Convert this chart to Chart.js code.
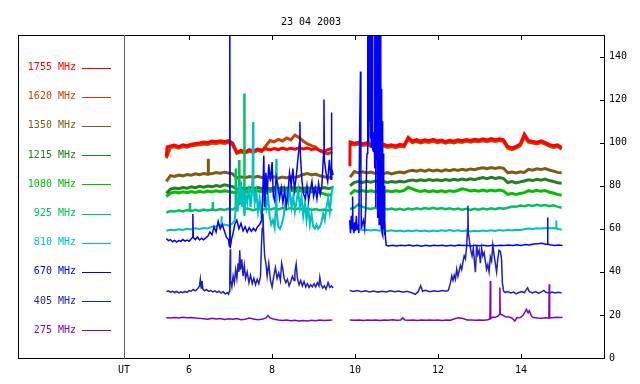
<!DOCTYPE html>
<html><head><meta charset="utf-8">
<script src="https://cdn.jsdelivr.net/npm/chart.js@4/dist/chart.umd.min.js"></script>
<style>html,body{margin:0;padding:0;background:#fff}canvas{display:block}</style>
</head><body>
<canvas id="c" width="640" height="384"></canvas>
<script>
const chartTitle = '23 04 2003';
const axisLabel = 'UT';
const xTicks = [6, 8, 10, 12, 14];
const yTicks = [0, 20, 40, 60, 80, 100, 120, 140];
const bandNames = ['1755 MHz','1620 MHz','1350 MHz','1215 MHz','1080 MHz','925 MHz','810 MHz','670 MHz','405 MHz','275 MHz'];
const bandColors = ['#ff0000','#c84000','#805c10','#228022','#00c000','#00c060','#00c0c0','#0000ff','#2020c0','#8000c8'];
const gapHour = 9.7;

// regular time grid (hours UT) for the quiet bands
const hoursA = [5.45,5.55,5.65,5.75,5.85,5.95,6.05,6.15,6.25,6.35,6.45,6.55,6.65,6.75,6.85,6.95,7.05,7.15,7.25,7.35,7.45,7.55,7.65,7.75,7.85,7.95,8.05,8.15,8.25,8.35,8.45,8.55,8.65,8.75,8.85,8.95,9.05,9.15,9.25,9.35,9.45];
const hoursB = [9.88,9.98,10.08,10.18,10.28,10.38,10.48,10.58,10.68,10.78,10.88,10.98,11.08,11.18,11.28,11.38,11.48,11.58,11.68,11.78,11.88,11.98,12.08,12.18,12.28,12.38,12.48,12.58,12.68,12.78,12.88,12.98,13.08,13.18,13.28,13.38,13.48,13.58,13.68,13.78,13.88,13.98,14.08,14.18,14.28,14.38,14.48,14.58,14.68,14.78,14.88,14.98];

const v1755a = [93.5,98.5,98.9,98.2,99.0,98.6,99.3,99.6,99.9,100.3,100.0,100.8,100.4,100.9,100.5,101.0,99.8,95.6,96.4,95.8,96.8,96.2,97.0,96.5,97.2,96.6,97.3,96.8,97.5,96.9,97.4,97.0,97.6,97.1,97.5,96.8,97.2,96.4,96.0,96.8,97.5];
const v1755b = [100.3,99.8,100.2,99.5,99.9,99.2,99.6,98.8,99.3,98.6,99.0,98.5,99.2,98.8,102.5,100.8,101.4,100.7,101.3,100.9,101.5,100.8,101.2,100.6,101.1,100.7,101.3,100.9,101.5,101.0,101.6,101.2,101.8,101.3,101.9,101.4,101.8,101.3,98.2,97.6,98.3,99.4,104.0,101.0,100.6,100.2,100.8,100.1,99.2,98.6,99.0,97.8];
const x1755 = [[5.47,98.0],[9.875,89.0]];

const v1620a = [92.8,97.8,98.1,97.5,98.2,97.9,98.5,98.8,99.0,99.4,99.2,99.8,99.5,100.0,99.6,100.1,98.8,95.0,95.7,95.2,96.0,95.5,96.3,95.9,98.5,101.0,100.4,101.5,100.8,102.2,101.3,103.5,102.4,100.8,99.4,98.6,98.0,96.2,95.3,94.8,95.8];
const v1620b = [99.4,99.0,99.3,98.7,99.0,98.4,98.8,98.0,98.5,97.8,98.2,97.7,98.3,98.0,101.5,100.0,100.5,99.9,100.4,100.1,100.6,100.0,100.4,99.8,100.3,99.9,100.4,100.1,100.7,100.2,100.8,100.4,100.9,100.5,101.0,100.6,101.0,100.5,97.4,96.8,97.5,98.5,102.5,100.2,99.8,99.4,100.0,99.3,98.4,97.8,98.2,97.0];

const v1350a = [82.0,84.7,84.3,85.0,84.6,85.2,84.9,85.5,85.1,85.7,85.3,85.6,86.1,85.8,86.3,85.9,85.5,83.6,84.2,83.7,84.3,83.9,84.4,83.8,84.2,83.6,84.1,83.5,84.0,83.6,84.2,83.8,84.4,85.2,85.7,85.0,85.4,84.6,84.2,83.6,84.1];
const v1350b = [84.0,86.6,86.0,86.5,85.9,86.3,85.7,86.2,85.6,86.1,85.5,86.0,86.4,86.0,86.8,87.2,86.7,87.3,86.8,87.4,86.9,87.3,86.8,87.4,87.0,87.5,87.1,87.6,87.2,87.8,87.4,88.0,88.3,87.9,88.4,88.0,88.5,88.1,86.0,86.4,85.9,86.5,86.2,87.6,87.2,87.9,87.5,88.0,87.3,86.8,86.2,86.0];
const x1350 = [[6.455,85.5],[6.46,92.5],[6.465,85.6]];

const v1215a = [76.5,78.4,78.9,78.6,79.2,78.8,79.5,79.1,79.7,79.3,79.9,79.5,80.1,79.7,80.4,80.0,79.6,78.4,79.0,78.5,79.1,78.6,79.2,78.7,79.0,78.5,79.1,78.6,79.2,78.8,79.3,78.7,79.2,78.6,79.1,78.5,79.0,78.6,79.2,78.7,79.0];
const v1215b = [80.0,81.6,82.0,81.5,82.1,81.6,82.2,81.7,82.0,81.5,82.0,81.6,82.1,81.7,82.3,82.7,82.2,82.8,82.3,82.9,82.4,82.8,82.3,82.9,82.5,83.0,82.6,83.1,82.7,83.2,82.8,83.4,83.8,83.3,83.9,83.4,83.8,83.3,81.5,81.9,81.3,81.8,82.2,82.8,82.4,83.0,82.6,83.1,82.4,82.0,81.4,81.2];

const v1080a = [75.0,76.6,77.1,76.7,77.2,76.8,77.3,76.9,77.4,77.0,77.5,77.1,77.6,77.2,77.7,77.3,77.0,76.8,77.4,76.9,77.6,77.1,77.7,77.2,77.8,77.3,77.9,77.4,78.0,77.5,78.0,77.4,77.8,77.2,77.7,77.1,77.5,76.8,76.2,75.6,76.0];
const v1080b = [76.0,77.7,77.3,77.8,77.2,77.7,77.2,77.6,77.1,77.6,77.2,77.7,77.3,77.8,79.3,78.5,77.8,77.3,77.8,77.2,77.7,77.2,77.6,77.1,77.7,77.3,77.8,78.6,78.2,77.6,77.9,77.5,78.0,77.5,78.0,77.6,78.0,77.5,76.0,76.5,75.9,76.4,76.8,77.7,77.3,77.9,77.4,77.8,77.0,76.6,76.0,75.6];

const v925a = [67.5,68.3,68.0,68.6,68.1,68.7,68.2,68.8,68.3,68.9,68.5,69.0,68.6,69.2,68.8,69.3,68.9,70.5,72.0,69.5,69.2,68.6,69.3,68.8,69.4,68.9,69.5,69.0,69.6,69.1,69.6,69.0,69.5,68.9,69.4,68.8,69.2,68.6,69.0,68.5,68.8];
const v925b = [69.2,69.8,71.3,70.2,69.6,69.2,69.7,69.1,69.5,69.0,69.4,68.9,69.3,68.8,69.4,69.0,69.5,69.1,69.6,69.2,69.7,69.2,69.6,69.1,69.5,69.0,69.4,68.9,69.3,68.8,69.3,68.9,69.4,69.0,69.5,69.1,69.6,69.3,69.8,70.4,70.2,70.8,70.5,71.0,70.6,71.1,70.7,71.0,70.5,70.9,70.3,69.8];
const x925 = [[6.015,68.4],[6.02,72.0],[6.025,68.5],[6.565,68.8],[6.57,72.5],[6.575,68.9],[7.12,70.0],[7.125,88.0],[7.13,70.5],[7.2,71.5],[7.205,92.0],[7.21,72.0],[7.325,70.5],[7.33,122.8],[7.335,70.0]];

// 810 MHz: irregular sampling in the active first part
const p810a = [[5.45,59.1],[5.55,59.6],[5.65,59.3],[5.75,59.8],[5.85,59.5],[5.95,60.0],[6.05,59.7],[6.15,60.2],[6.25,59.9],[6.35,60.4],[6.45,60.1],[6.55,61.0],[6.65,61.2],[6.75,61.8],[6.775,61.5],[6.78,65.8],[6.785,61.6],[6.85,62.0],[6.95,61.5],[7.05,62.5],[7.10,64],[7.14,74],[7.17,68],[7.20,80],[7.22,72],[7.25,82],[7.28,70],[7.30,78],[7.33,66],[7.36,76],[7.40,72],[7.44,80],[7.48,70],[7.51,76],[7.53,85],[7.54,109.6],[7.55,80],[7.58,72],[7.62,77],[7.66,68],[7.70,74],[7.74,66],[7.78,73],[7.82,80],[7.86,70],[7.90,75],[7.94,66],[7.98,62],[8.02,64],[8.06,60.5],[8.09,70],[8.10,92.5],[8.11,68],[8.15,61],[8.19,60],[8.23,62],[8.27,65],[8.31,70],[8.35,76],[8.39,72],[8.43,78],[8.47,70],[8.51,75],[8.55,68],[8.59,73],[8.63,78],[8.67,70],[8.71,75],[8.75,66],[8.79,72],[8.83,64],[8.87,70],[8.91,62],[8.95,67],[8.99,61],[9.03,60],[9.07,62],[9.11,60],[9.15,61],[9.19,63],[9.23,67],[9.27,64],[9.31,70],[9.35,74],[9.39,68],[9.43,76],[9.47,80]];
const v810b = [60.5,60.3,59.8,59.4,59.6,59.2,59.5,59.1,59.4,59.0,59.3,58.9,59.2,58.8,59.2,58.9,59.3,58.9,59.2,58.8,59.2,58.9,59.3,59.0,59.4,59.0,59.3,58.9,59.2,58.8,59.1,58.9,59.2,59.0,59.3,59.0,59.4,59.1,59.5,59.2,59.6,59.4,59.8,60.1,59.9,60.3,60.1,60.4,60.2,60.4,60.0,59.6];
const x810 = [[14.845,60.3],[14.85,63.8],[14.855,60.2]];

// 670 MHz
const p670a = [[5.45,55.5],[5.5,54.5],[5.55,55.0],[5.6,54.0],[5.65,54.6],[5.7,53.8],[5.75,54.5],[5.8,54.2],[5.85,55.0],[5.9,54.3],[5.95,54.8],[6.0,54.2],[6.05,55.4],[6.08,56],[6.09,66.9],[6.10,56],[6.15,55.0],[6.2,56.2],[6.25,54.8],[6.3,55.6],[6.35,54.9],[6.4,55.8],[6.45,56.5],[6.5,58.5],[6.55,57.2],[6.6,61],[6.65,58.5],[6.7,63.5],[6.75,60],[6.8,62],[6.85,59],[6.9,56],[6.95,55],[6.97,52],[6.98,160],[6.99,51],[7.02,55],[7.06,58],[7.10,62],[7.15,64],[7.2,60],[7.25,62.5],[7.3,59],[7.35,61],[7.4,58.5],[7.45,60.5],[7.5,58.8],[7.55,60.2],[7.6,59],[7.65,61],[7.7,62],[7.75,64],[7.78,80],[7.80,94],[7.82,70],[7.85,86],[7.88,76],[7.92,90],[7.96,82],[8.0,91],[8.03,75],[8.06,73],[8.1,84],[8.14,80],[8.18,74],[8.22,79],[8.26,72],[8.3,78],[8.34,70.5],[8.38,76],[8.42,86],[8.46,80],[8.5,88],[8.54,78],[8.58,84],[8.62,92],[8.66,100],[8.67,109.7],[8.68,95],[8.72,82],[8.76,76],[8.8,74],[8.84,80],[8.88,73],[8.92,78],[8.96,82],[9.0,75],[9.04,79],[9.08,74],[9.12,81],[9.16,76],[9.2,80],[9.24,95],[9.25,120],[9.26,92],[9.3,86],[9.34,82],[9.38,92],[9.42,83],[9.43,114],[9.44,88],[9.47,85]];
const p670b = [[9.87,64],[9.89,58],[9.91,66],[9.93,60],[9.94,75],[9.95,61],[9.97,58],[9.99,63],[10.01,59],[10.03,66],[10.05,60],[10.07,62],[10.09,58],[10.11,106],[10.13,133],[10.14,90],[10.15,60],[10.17,62],[10.2,64],[10.23,60],[10.26,70],[10.28,92],[10.29,95],[10.30,160],[10.31,105],[10.32,165],[10.33,100],[10.34,160],[10.35,110],[10.36,165],[10.37,102],[10.38,160],[10.39,98],[10.40,165],[10.41,100],[10.42,160],[10.43,97],[10.44,96],[10.45,99],[10.46,105],[10.47,165],[10.48,88],[10.49,160],[10.50,70],[10.51,165],[10.52,92],[10.53,160],[10.54,65],[10.55,165],[10.56,85],[10.57,160],[10.58,62],[10.59,165],[10.60,90],[10.61,160],[10.62,110],[10.63,60],[10.64,125],[10.65,58],[10.66,110],[10.67,57],[10.68,95],[10.69,60],[10.70,80],[10.71,57],[10.72,64],[10.73,56.8],[10.75,52.4],[10.8,52.0],[10.9,52.3],[11.0,52.0],[11.1,52.4],[11.2,52.1],[11.3,52.5],[11.4,52.0],[11.5,52.3],[11.6,51.9],[11.7,52.3],[11.8,52.0],[11.9,52.4],[12.0,52.1],[12.1,52.4],[12.2,52.0],[12.3,52.3],[12.4,52.0],[12.5,52.5],[12.6,52.2],[12.7,52.4],[12.8,52.0],[12.9,52.3],[13.0,52.1],[13.1,52.4],[13.2,52.0],[13.3,52.3],[13.4,52.1],[13.5,52.4],[13.6,52.2],[13.7,52.5],[13.8,52.2],[13.9,52.6],[14.0,52.3],[14.1,52.7],[14.2,52.5],[14.3,52.9],[14.4,53.0],[14.5,53.3],[14.6,52.8],[14.63,52.8],[14.64,65.3],[14.65,52.8],[14.7,52.6],[14.8,52.3],[14.9,52.5],[15.0,52.2]];

// 405 MHz
const p405a = [[5.45,30.8],[5.5,31.2],[5.55,30.6],[5.6,31.0],[5.65,30.4],[5.7,30.9],[5.75,30.2],[5.8,30.7],[5.85,30.3],[5.9,30.9],[5.95,30.5],[6.0,31.3],[6.05,31.0],[6.1,31.8],[6.15,31.2],[6.2,32.0],[6.25,33.5],[6.27,36.6],[6.29,32.5],[6.31,35.8],[6.33,32.0],[6.37,31.2],[6.42,31.8],[6.47,30.9],[6.52,31.4],[6.57,30.7],[6.62,31.2],[6.67,30.5],[6.72,31.0],[6.77,30.2],[6.82,30.8],[6.87,29.8],[6.92,30.3],[6.95,29.6],[6.97,31.0],[6.98,38],[6.99,50.5],[7.0,36],[7.03,33],[7.06,38],[7.09,35],[7.12,41],[7.15,37],[7.18,44],[7.2,40],[7.22,50],[7.24,41],[7.27,45.8],[7.3,38],[7.33,43],[7.36,37],[7.4,40],[7.44,35],[7.48,38.5],[7.52,34.5],[7.56,37],[7.6,34],[7.64,36.5],[7.68,34.5],[7.72,38],[7.74,50.5],[7.76,60],[7.78,67],[7.8,55],[7.82,47.4],[7.85,44],[7.88,38],[7.92,44],[7.96,36],[8.0,33],[8.04,38],[8.08,42],[8.12,37],[8.16,39.5],[8.2,36],[8.23,44],[8.26,41.2],[8.29,37],[8.33,35],[8.37,36.5],[8.41,33.5],[8.45,35.5],[8.49,38],[8.53,36],[8.55,40],[8.58,43.6],[8.61,37],[8.65,34],[8.69,36],[8.73,33.5],[8.77,35.5],[8.81,33],[8.85,34.5],[8.89,32.8],[8.93,34],[8.97,33],[9.01,34.5],[9.05,33],[9.09,35],[9.13,33.5],[9.15,37.5],[9.18,34],[9.22,32.5],[9.26,33.5],[9.3,32],[9.35,35],[9.39,32.8],[9.43,33.5],[9.47,32.5]];
const p405b = [[9.87,31.4],[9.95,30.9],[10.05,31.3],[10.15,30.8],[10.25,31.2],[10.35,30.7],[10.45,31.1],[10.55,30.6],[10.65,31.0],[10.75,30.7],[10.85,31.2],[10.95,30.8],[11.05,31.1],[11.15,30.5],[11.25,31.0],[11.35,30.4],[11.45,29.6],[11.52,30.8],[11.58,33.5],[11.63,31.0],[11.7,31.4],[11.8,30.8],[11.9,31.2],[12.0,30.9],[12.1,31.3],[12.2,31.0],[12.25,31.5],[12.3,35],[12.33,38.1],[12.36,36],[12.39,38.5],[12.42,36.5],[12.45,41.2],[12.48,38],[12.51,40.5],[12.54,43],[12.57,41],[12.6,44.5],[12.63,47.4],[12.66,46],[12.69,52],[12.71,60],[12.72,70.7],[12.73,58.3],[12.76,53.8],[12.79,50],[12.82,47.4],[12.85,51],[12.88,44],[12.9,39.8],[12.93,52.4],[12.96,48],[12.99,50],[13.02,44],[13.05,51],[13.08,47.4],[13.11,49],[13.14,45],[13.17,41.2],[13.2,43.3],[13.23,40],[13.26,47],[13.29,45],[13.32,52.4],[13.35,48],[13.38,44],[13.41,40],[13.44,46],[13.47,50],[13.5,49.6],[13.53,46],[13.55,35],[13.58,31.1],[13.62,30.4],[13.68,30.9],[13.75,30.2],[13.82,30.6],[13.88,29.8],[13.95,30.4],[14.02,30.9],[14.08,30.3],[14.12,31.5],[14.16,32.6],[14.2,30.8],[14.28,30.2],[14.35,30.8],[14.42,30.1],[14.48,30.6],[14.55,31.4],[14.6,30.5],[14.68,30.2],[14.75,30.6],[14.82,30.2],[14.9,30.5],[14.98,30.2]];

// 275 MHz
const p275a = [[5.45,18.7],[5.55,18.6],[5.65,18.8],[5.75,18.6],[5.85,18.9],[5.95,18.7],[6.05,18.8],[6.15,18.6],[6.25,18.4],[6.35,18.2],[6.45,18.0],[6.55,18.4],[6.65,18.1],[6.75,18.3],[6.85,17.9],[6.95,18.2],[7.05,18.0],[7.15,18.3],[7.25,17.8],[7.35,18.0],[7.45,18.6],[7.55,18.1],[7.65,17.8],[7.75,18.0],[7.85,18.5],[7.9,19.8],[7.95,18.6],[8.05,18.0],[8.15,17.6],[8.25,17.4],[8.35,17.6],[8.45,17.3],[8.55,17.5],[8.65,17.2],[8.75,17.4],[8.85,17.2],[8.95,17.5],[9.05,17.3],[9.15,17.6],[9.25,17.4],[9.35,17.5],[9.45,17.6]];
const p275b = [[9.87,17.6],[9.98,17.5],[10.1,17.7],[10.2,17.4],[10.3,17.6],[10.4,17.5],[10.5,17.7],[10.6,17.4],[10.7,17.6],[10.8,17.5],[10.9,17.8],[11.0,17.5],[11.1,17.6],[11.15,18.6],[11.2,17.6],[11.3,17.5],[11.4,17.7],[11.5,17.4],[11.6,17.6],[11.7,17.5],[11.8,17.7],[11.9,17.5],[12.0,17.6],[12.1,17.4],[12.2,17.6],[12.3,17.5],[12.4,18.2],[12.5,18.7],[12.6,18.3],[12.7,17.7],[12.8,17.6],[12.9,17.5],[13.0,17.7],[13.1,17.5],[13.2,17.8],[13.25,18.2],[13.26,35.8],[13.27,18.3],[13.32,19.0],[13.38,18.8],[13.45,19.5],[13.48,20.3],[13.49,32.7],[13.5,20.3],[13.55,20.0],[13.62,19.2],[13.7,19.0],[13.78,18.6],[13.85,17.2],[13.9,18.7],[13.98,18.8],[14.05,19.8],[14.1,21.5],[14.13,22.6],[14.17,21.0],[14.2,22.0],[14.25,19.5],[14.3,18.8],[14.4,18.6],[14.5,18.5],[14.6,18.7],[14.67,18.5],[14.68,34.2],[14.69,18.6],[14.75,18.7],[14.85,18.9],[14.95,18.8],[15.0,18.9]];

// ---- build point lists (segments separated by a data gap) ----
function fromGrid(hours, vals) { return hours.map((h, i) => ({ x: h, y: vals[i] })); }
function fromPairs(pairs) { return pairs.map(p => ({ x: p[0], y: p[1] })); }
function joinSegs(a, b, extra) {
  const pts = a.concat([{ x: gapHour, y: null }], b, extra ? fromPairs(extra) : []);
  pts.sort((p, q) => p.x - q.x);
  return pts;
}
const seriesData = [
  joinSegs(fromGrid(hoursA, v1755a), fromGrid(hoursB, v1755b), x1755),
  joinSegs(fromGrid(hoursA, v1620a), fromGrid(hoursB, v1620b)),
  joinSegs(fromGrid(hoursA, v1350a), fromGrid(hoursB, v1350b), x1350),
  joinSegs(fromGrid(hoursA, v1215a), fromGrid(hoursB, v1215b)),
  joinSegs(fromGrid(hoursA, v1080a), fromGrid(hoursB, v1080b)),
  joinSegs(fromGrid(hoursA, v925a), fromGrid(hoursB, v925b), x925),
  joinSegs(fromPairs(p810a), fromGrid(hoursB, v810b), x810),
  joinSegs(fromPairs(p670a), fromPairs(p670b)),
  joinSegs(fromPairs(p405a), fromPairs(p405b)),
  joinSegs(fromPairs(p275a), fromPairs(p275b))
];
// drawing order (lower = on top)
const drawOrder = [5, 6, 7, 8, 9, 4, 2, 0, 1, 3];
const lineWidths = [3, 3, 3, 3, 3, 2.5, 2, 1.5, 1.5, 1.5];

const FONT = 'DejaVu Sans Mono';

const framePlugin = {
  id: 'frame',
  afterDraw(chart) {
    const { ctx, chartArea: a, scales } = chart;
    const xs = scales.x, ys = scales.y;
    const left = 18;
    ctx.save();
    ctx.strokeStyle = '#000';
    ctx.lineWidth = 1;
    ctx.beginPath();
    ctx.moveTo(left, a.top + 0.5); ctx.lineTo(a.right, a.top + 0.5);
    ctx.moveTo(left, a.bottom + 0.5); ctx.lineTo(a.right, a.bottom + 0.5);
    ctx.moveTo(left + 0.5, a.top); ctx.lineTo(left + 0.5, a.bottom + 1);
    ctx.stroke();
    ctx.strokeStyle = '#606060';
    ctx.beginPath();
    ctx.moveTo(a.left + 0.5, a.top); ctx.lineTo(a.left + 0.5, a.bottom + 1);
    ctx.stroke();
    ctx.strokeStyle = '#000';
    ctx.beginPath();
    xTicks.forEach(v => {
      const px = Math.round(xs.getPixelForValue(v)) + 0.5;
      ctx.moveTo(px, a.top); ctx.lineTo(px, a.top + 5);
      ctx.moveTo(px, a.bottom + 1); ctx.lineTo(px, a.bottom - 4);
    });
    yTicks.forEach(v => {
      const py = Math.round(ys.getPixelForValue(v)) + 0.5;
      ctx.moveTo(a.right, py); ctx.lineTo(a.right - 4, py);
    });
    ctx.stroke();
    ctx.fillStyle = '#000';
    ctx.font = '10px "' + FONT + '"';
    ctx.textAlign = 'center';
    ctx.textBaseline = 'middle';
    ctx.fillText(chartTitle, (left + a.right) / 2, 22);
    ctx.fillText(axisLabel, a.left, 370);
    bandNames.forEach((name, i) => {
      const y = 67.5 + i * 29.2;
      ctx.fillStyle = bandColors[i];
      ctx.textAlign = 'right';
      ctx.fillText(name, 76, y);
      ctx.strokeStyle = bandColors[i];
      ctx.lineWidth = 1;
      ctx.beginPath();
      ctx.moveTo(82, Math.round(y) + 0.5); ctx.lineTo(111, Math.round(y) + 0.5);
      ctx.stroke();
    });
    ctx.restore();
  }
};

new Chart(document.getElementById('c').getContext('2d'), {
  type: 'line',
  data: {
    datasets: seriesData.map((d, i) => ({
      label: bandNames[i],
      data: d,
      borderColor: bandColors[i],
      backgroundColor: bandColors[i],
      borderWidth: lineWidths[i],
      pointRadius: 0,
      tension: 0,
      spanGaps: false,
      order: drawOrder[i]
    }))
  },
  options: {
    responsive: false,
    animation: false,
    layout: { padding: { left: 124, top: 35, right: 0, bottom: 0 } },
    plugins: { legend: { display: false }, tooltip: { enabled: false }, title: { display: false } },
    scales: {
      x: {
        type: 'linear', position: 'bottom', min: 4.43, max: 16.0,
        afterBuildTicks: s => { s.ticks = xTicks.map(v => ({ value: v })); },
        afterFit: s => { s.height = 26; },
        grid: { display: false, drawTicks: false },
        border: { display: false },
        ticks: { color: '#000', font: { family: FONT, size: 10 }, padding: 6, maxRotation: 0, autoSkip: false }
      },
      y: {
        type: 'linear', position: 'right', min: 0, max: 150,
        afterBuildTicks: s => { s.ticks = yTicks.map(v => ({ value: v })); },
        afterFit: s => { s.width = 36; },
        grid: { display: false, drawTicks: false },
        border: { display: true, color: '#000', width: 1 },
        ticks: { color: '#000', font: { family: FONT, size: 10 }, padding: 5, autoSkip: false }
      }
    }
  },
  plugins: [framePlugin]
});
</script>
</body></html>
